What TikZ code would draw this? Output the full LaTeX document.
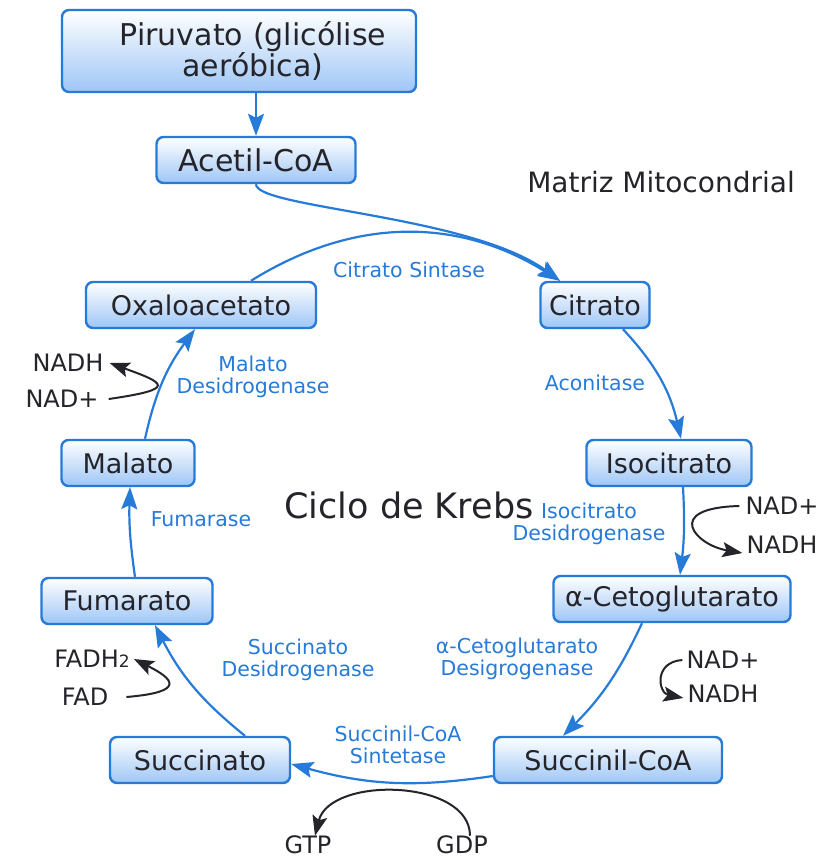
\documentclass[tikz,border=0pt]{standalone}
\usepackage{fontspec}
\setmainfont{DejaVu Sans}
\usetikzlibrary{arrows.meta,positioning}
\definecolor{krebsblue}{RGB}{38,122,216}
\definecolor{boxfill}{RGB}{158,198,246}
\definecolor{ink}{RGB}{36,36,42}

\begin{document}
\begin{tikzpicture}[x=1pt,y=1pt,
      box/.style={draw=krebsblue,line width=2.4pt,rounded corners=7pt,top color=white,
        bottom color=boxfill,text=ink,font=\fontsize{27}{28}\selectfont,
        minimum height=46pt,inner xsep=6pt},
      enz/.style={text=krebsblue,font=\fontsize{20.5}{22}\selectfont,align=center},
      cof/.style={text=ink,font=\fontsize{24}{26}\selectfont,inner sep=4pt},
      cyc/.style={draw=krebsblue,line width=2.2pt,-{Stealth[length=22pt,width=16pt,inset=4pt]}},
      aux/.style={draw=ink,line width=2pt,-{Stealth[length=20pt,width=15pt,inset=4pt]}}]
			\useasboundingbox (0,0) rectangle (824,-861);
			% caixas
			\node[box,font=\fontsize{30}{30}\selectfont,align=center,minimum width=354pt,minimum height=82pt,text width=330pt] (piruvato) at (239,-51) {\hspace*{28pt}Piruvato (glicólise\\\hspace*{28pt}aeróbica)};
			\node[box,font=\fontsize{30}{30}\selectfont,minimum width=199pt] (acetil) at (256,-160) {Acetil-CoA};
			\node[box,minimum width=109pt] (citrato) at (595,-305) {Citrato};
			\node[box,minimum width=230pt] (oxalo) at (201,-305) {Oxaloacetato};
			\node[box,minimum width=165pt] (isocit) at (669,-463) {Isocitrato};
			\node[box,minimum width=133pt] (malato) at (128,-463) {Malato};
			\node[box,minimum width=237pt] (ceto) at (672,-599) {α-Cetoglutarato};
			\node[box,minimum width=171pt] (fumarato) at (127,-601) {Fumarato};
			\node[box,minimum width=228pt] (succoa) at (608,-760) {Succinil-CoA};
			\node[box,minimum width=180pt] (succ) at (200,-760) {Succinato};
			\node[text=ink,font=\fontsize{28}{30}\selectfont] (matriz) at (661,-182) {Matriz Mitocondrial};
			\node[text=ink,font=\fontsize{35}{36}\selectfont] (ciclo) at (409,-505) {Ciclo de Krebs};
			% enzimas
			\node[enz] (sintase) at (409,-270) {Citrato Sintase};
			\node[enz] (aconitase) at (595,-383) {Aconitase};
			\node[enz] (isodes) at (589,-524) {Isocitrato\\Desidrogenase};
			\node[enz] (cetodes) at (517,-659) {α-Cetoglutarato\\Desigrogenase};
			\node[enz] (sintetase) at (398,-745) {Succinil-CoA\\Sintetase};
			\node[enz] (succdes) at (298,-660) {Succinato\\Desidrogenase};
			\node[enz] (fumarase) at (201,-519) {Fumarase};
			\node[enz] (maldes) at (253,-377) {Malato\\Desidrogenase};
			% cofatores
			\node[cof] (nadhA) at (68,-363) {NADH};
			\node[cof] (nadA) at (62,-399) {NAD+};
			\node[cof] (nadB) at (782,-506) {NAD+};
			\node[cof] (nadhB) at (782,-545) {NADH};
			\node[cof] (nadC) at (723,-660) {NAD+};
			\node[cof] (nadhC) at (723,-694) {NADH};
			\node[cof] (fadh) at (92,-659) {FADH{\fontsize{17}{17}\selectfont 2}};
			\node[cof] (fad) at (85,-697) {FAD};
			\node[cof] (gtp) at (308,-845) {GTP};
			\node[cof] (gdp) at (462,-845) {GDP};
			% ciclo
			\draw[cyc] (acetil |- piruvato.south) -- (acetil.north);
			\draw[cyc] (acetil.south) .. controls +(0,-24) and (470,-215) .. ([xshift=-35pt]citrato.north);
			\draw[cyc] ([xshift=50pt]oxalo.north) to[bend left=32] ([xshift=-35pt]citrato.north);
			\draw[cyc] ([xshift=28pt]citrato.south) to[bend left=15] ([xshift=12pt]isocit.north);
			\draw[cyc] ([xshift=14pt]isocit.south) to[bend left=5] ([xshift=8pt]ceto.north);
			\draw[cyc] ([xshift=-30pt]ceto.south) to[bend left=10] ([xshift=-45pt]succoa.north);
			\draw[cyc] ([yshift=-16pt]succoa.west) to[bend left=12] ([yshift=-4pt]succ.east);
			\draw[cyc] ([xshift=45pt]succ.north) to[bend left=12] ([xshift=28pt]fumarato.south);
			\draw[cyc] ([xshift=8pt]fumarato.north) to[bend left=5] ([xshift=2pt]malato.south);
			\draw[cyc] ([xshift=17pt]malato.north) to[bend left=12] ([xshift=-6pt]oxalo.south);
			% setas dos cofatores
			\draw[aux] ([xshift=6pt]nadA.east) .. controls +(70,10) and +(55,-20) .. ([xshift=2pt]nadhA.east);
			\draw[aux] ([xshift=-2pt]nadB.west) .. controls +(-77,-2) and +(-47,8) .. ([yshift=-8pt]nadhB.west);
			\draw[aux] (nadC.west) .. controls +(-29,-2) and +(-25,5) .. ([yshift=-4pt]nadhC.west);
			\draw[aux] ([xshift=14pt]fad.east) .. controls +(60,5) and +(40,-20) .. (fadh.east);
			\draw[aux] ([xshift=8pt,yshift=-4pt]gdp.north) .. controls +(0,57) and +(15,60) .. ([xshift=7pt,yshift=-4pt]gtp.north);
		\end{tikzpicture}
\end{document}
